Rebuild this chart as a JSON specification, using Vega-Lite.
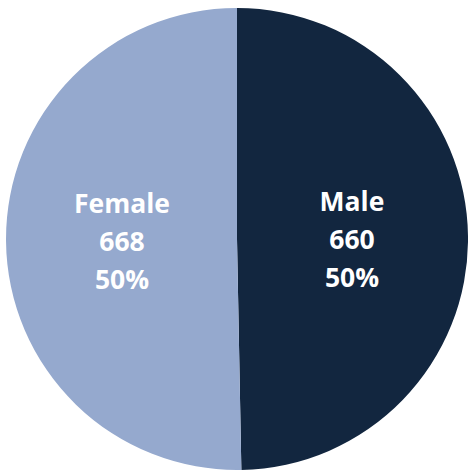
{
  "$schema": "https://vega.github.io/schema/vega-lite/v6.json",
  "width": 468,
  "height": 470,
  "autosize": {"type": "fit", "contains": "padding"},
  "padding": {"left": 6, "top": 8, "right": 0, "bottom": 0},
  "background": "white",
  "view": {"stroke": null},
  "data": {"values": [
    {"gender": "Male", "count": 660, "pct": "50%"},
    {"gender": "Female", "count": 668, "pct": "50%"}
  ]},
  "transform": [
    {"calculate": "[datum.gender, '\u00a0' + datum.count, datum.pct]", "as": "label"}
  ],
  "encoding": {
    "theta": {"field": "count", "type": "quantitative", "stack": true},
    "order": {"field": "gender", "sort": "descending"},
    "color": {
      "field": "gender", "type": "nominal",
      "scale": {"domain": ["Male", "Female"], "range": ["#12263F", "#95A9CE"]},
      "legend": null
    }
  },
  "layer": [
    {"mark": {"type": "arc", "outerRadius": 231}},
    {
      "mark": {"type": "text", "radius": 115, "font": "Open Sans", "fontWeight": "bold", "fontSize": 26.5, "lineHeight": 38, "align": "center", "baseline": "middle", "dy": -35},
      "encoding": {
        "text": {"field": "label"},
        "color": {"value": "white"}
      }
    }
  ]
}
